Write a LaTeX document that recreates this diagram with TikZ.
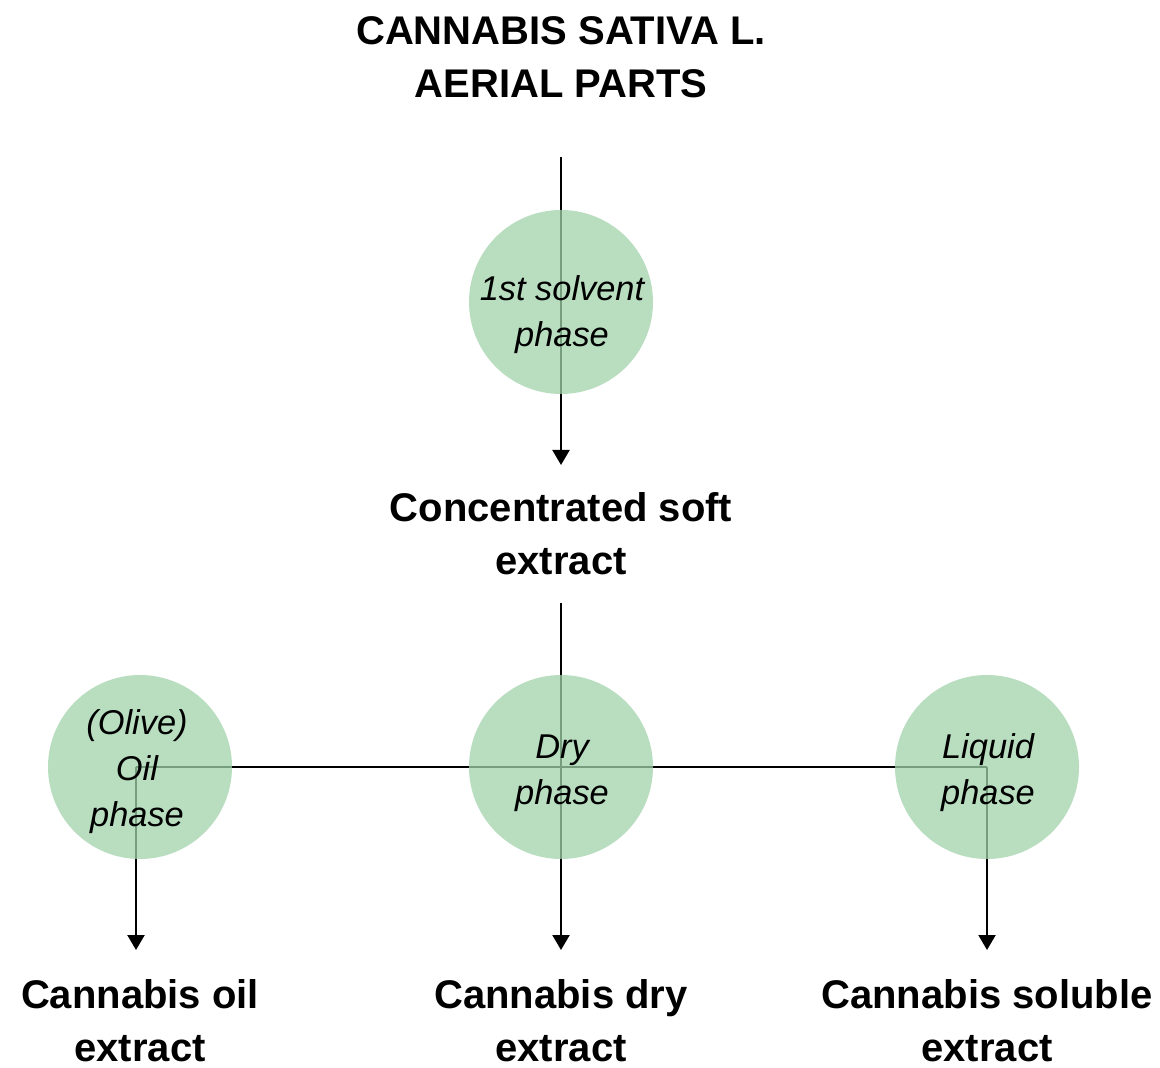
\documentclass[tikz,border=0pt]{standalone}
\usepackage{fontspec}
\setmainfont{Liberation Sans}
\usetikzlibrary{arrows.meta}
\pgfdeclarelayer{bg}
\pgfsetlayers{bg,main}
\definecolor{phasegreen}{RGB}{160,210,170}
\begin{document}
\begin{tikzpicture}[x=0.5pt,y=-0.5pt,
  phasecircle/.style={circle,minimum size=92pt,inner sep=0pt,fill=phasegreen,fill opacity=0.75,draw=none},
  phasetext/.style={align=center,inner sep=0pt,font=\fontsize{17.2pt}{23pt}\selectfont\itshape},
  boldlabel/.style={align=center,inner sep=0pt,font=\fontsize{20pt}{26.5pt}\selectfont\bfseries},
  conn/.style={line width=1.1pt,black},
  arr/.style={conn,-{Triangle[width=8.5pt,length=7.5pt]}}]
\useasboundingbox (0,0) rectangle (1160,1068);

\node[boldlabel] (title) at (561,57) {CANNABIS SATIVA L.\\AERIAL PARTS};
\node[boldlabel] (soft) at (561,534) {Concentrated soft\\extract};
\node[boldlabel] (oilx) at (140,1021) {Cannabis oil\\extract};
\node[boldlabel] (dryx) at (561,1021) {Cannabis dry\\extract};
\node[boldlabel] (solx) at (987,1021) {Cannabis soluble\\extract};

\node[phasecircle] (c1) at (561,302) {};
\node[phasecircle] (c2) at (561,767) {};
\node[phasecircle] (cl) at (140,767) {};
\node[phasecircle] (cr) at (987,767) {};

\node[phasetext] (t1) at (562,315) {1st solvent\\phase};
\node[phasetext] (t2) at (562,773) {Dry\\phase};
\node[phasetext] (tl) at (137,772) {(Olive)\\Oil\\phase};
\node[phasetext] (tr) at (988,773) {Liquid\\phase};

\coordinate (a0) at (561,157);
\coordinate (a1) at (561,465);
\coordinate (m0) at (561,603);
\coordinate (jl) at (136,767);
\coordinate (jr) at (987,767);
\coordinate (bl) at (136,950);
\coordinate (bm) at (561,950);
\coordinate (br) at (987,950);

\begin{pgfonlayer}{bg}
\draw[arr] (a0) -- (c1.center) -- (a1);
\draw[conn] (m0) -- (c2.center);
\draw[conn] (jl) -- (jr);
\draw[arr] (jl) -- (bl);
\draw[arr] (c2.center) -- (bm);
\draw[arr] (jr) -- (br);
\end{pgfonlayer}
\end{tikzpicture}
\end{document}
